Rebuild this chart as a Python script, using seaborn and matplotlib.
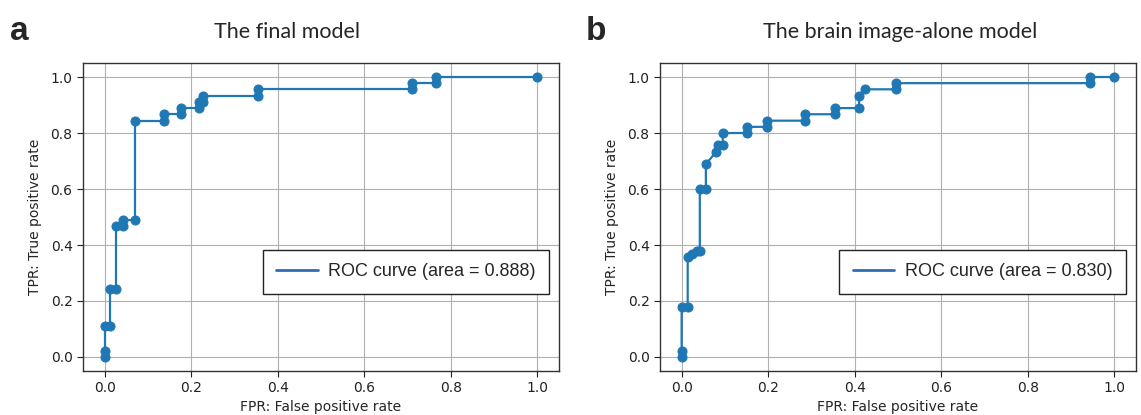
import numpy as np
import pandas as pd
import matplotlib
matplotlib.use("Agg")
import matplotlib.pyplot as plt
from matplotlib.lines import Line2D
import seaborn as sns

# ---- data ----
fpr_a = [0.0, 0.0, 0.0, 0.012, 0.012, 0.027, 0.027, 0.042, 0.042, 0.070, 0.070,
         0.137, 0.137, 0.177, 0.177, 0.217, 0.217, 0.228, 0.228, 0.355, 0.355,
         0.710, 0.710, 0.765, 0.765, 1.0]
tpr_a = [0.0, 0.022, 0.111, 0.111, 0.244, 0.244, 0.467, 0.467, 0.489, 0.489, 0.844,
         0.844, 0.867, 0.867, 0.889, 0.889, 0.911, 0.911, 0.933, 0.933, 0.956,
         0.956, 0.978, 0.978, 1.0, 1.0]
auc_a = 0.888

fpr_b = [0.0, 0.0, 0.0, 0.014, 0.014, 0.025, 0.035, 0.042, 0.042, 0.056, 0.056,
         0.080, 0.085, 0.095, 0.095, 0.150, 0.150, 0.197, 0.197, 0.285, 0.285,
         0.355, 0.355, 0.410, 0.410, 0.423, 0.495, 0.495, 0.944, 0.944, 1.0]
tpr_b = [0.0, 0.022, 0.178, 0.178, 0.356, 0.367, 0.378, 0.378, 0.600, 0.600, 0.689,
         0.733, 0.756, 0.756, 0.800, 0.800, 0.822, 0.822, 0.844, 0.844, 0.867,
         0.867, 0.889, 0.889, 0.933, 0.956, 0.956, 0.978, 0.978, 1.0, 1.0]
auc_b = 0.830

titles = ["The final model", "The brain image-alone model"]
letters = ["a", "b"]
ticks = [0.0, 0.2, 0.4, 0.6, 0.8, 1.0]
tick_labels = ["0.0", "0.2", "0.4", "0.6", "0.8", "1.0"]

sns.set_theme(style="ticks")
plt.rcParams["font.family"] = ["DejaVu Sans"]

W, H = 1141, 415
fig = plt.figure(figsize=(W / 100, H / 100), dpi=100)

def px_rect(left, top, right, bottom):
    return [left / W, 1 - bottom / H, (right - left) / W, (bottom - top) / H]

axes = [fig.add_axes(px_rect(83, 63, 559, 371)),
        fig.add_axes(px_rect(660, 63, 1136, 371))]

color = "#1f77b4"
panels = [(fpr_a, tpr_a, auc_a), (fpr_b, tpr_b, auc_b)]
for ax, (fpr, tpr, auc) in zip(axes, panels):
    df = pd.DataFrame({"fpr": fpr, "tpr": tpr})
    sns.lineplot(data=df, x="fpr", y="tpr", ax=ax, sort=False, estimator=None,
                 marker="o", markersize=6.5, color=color, linewidth=1.6,
                 markeredgecolor=color, legend=False)
    ax.set_xlim(-0.05, 1.05)
    ax.set_ylim(-0.05, 1.05)
    ax.set_xticks(ticks)
    ax.set_xticklabels(tick_labels)
    ax.set_yticks(ticks)
    ax.set_yticklabels(tick_labels)
    ax.tick_params(labelsize=10, length=4, width=0.8, colors="#222222")
    ax.grid(True, color="#b0b0b0", linewidth=0.8)
    ax.set_axisbelow(True)
    for s in ax.spines.values():
        s.set_visible(True)
        s.set_color("#333333")
        s.set_linewidth(1.0)
    ax.set_xlabel("FPR: False positive rate", fontsize=10, labelpad=3)
    ax.set_ylabel("TPR: True positive rate", fontsize=10, labelpad=6)
    handle = Line2D([], [], color="#2f6db5", linewidth=2.0)
    leg = ax.legend([handle], [f"ROC curve (area = {auc:.3f})"],
                    loc="lower right", bbox_to_anchor=(0.98, 0.25),
                    borderaxespad=0, fancybox=False, framealpha=1,
                    prop={"family": "Liberation Sans", "size": 13},
                    handlelength=2.3, borderpad=0.75, handletextpad=0.6)
    leg.get_frame().set_edgecolor("#222222")
    leg.get_frame().set_linewidth(1.0)

fig.text(287 / W, 1 - 32 / H, titles[0], ha="center", va="center",
         fontsize=15.5, family="Lato")
fig.text(900 / W, 1 - 32 / H, titles[1], ha="center", va="center",
         fontsize=15.5, family="Lato")
fig.text(10 / W, 1 - 31 / H, letters[0], ha="left", va="center",
         fontsize=24, fontweight="bold", family="Liberation Sans")
fig.text(586 / W, 1 - 31 / H, letters[1], ha="left", va="center",
         fontsize=24, fontweight="bold", family="Liberation Sans")

fig.savefig("out.png", dpi=100)
